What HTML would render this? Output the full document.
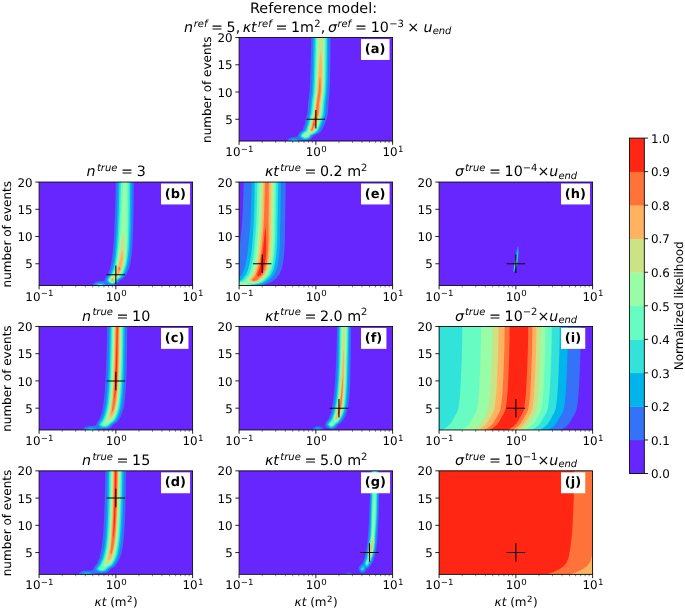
<!DOCTYPE html>
<html lang="en"><head><meta charset="utf-8"><title>Normalized likelihood</title>
<style>html,body{margin:0;padding:0;background:#fff}svg{display:block}</style></head>
<body>
<svg width="685" height="610" viewBox="0 0 685 610" font-family="'DejaVu Sans','Liberation Sans',sans-serif" fill="#000" text-rendering="geometricPrecision">
<rect width="685" height="610" fill="#fff"/>
<!-- panel a -->
<svg x="239.1" y="37.55" width="153.5" height="103.5" viewBox="0 0 153.5 103.5" overflow="hidden">
<rect width="153.5" height="103.5" fill="#6826fe"/>
<path fill="#3473f8" fill-rule="evenodd" d="M47.89 103.5L61.4 103.5L61.78 103.18L62.17 103L62.94 102.83L66.39 102.76L67.92 102.66L69.46 102.4L70.61 102.05L71.76 101.45L72.53 100.81L73.3 99.86L73.68 99.22L74.22 98.05L77.13 97.05L78.67 96.42L79.82 95.77L80.97 94.84L81.74 93.99L82.12 93.47L83.27 91.64L84.04 90.25L84.81 88.61L86.34 84.85L87.42 81.71L88.26 78.35L88.71 76.26L89.12 70.82L89.37 65.37L89.97 59.92L90.49 54.47L90.86 43.58L91.1 32.68L91.3 16.34L91.41 0L72.22 0L71.76 19.23L71.38 31.94L70.99 42.07L70.61 50.24L70.38 54.47L69.04 65.37L68.69 70.82L68.16 76.26L67.16 79.95L66 84.85L65.54 87.16L64.47 89.8L63.62 92.61L62.55 93.17L61.78 93.66L61.02 94.31L60.63 94.72L59.87 95.8L59.48 96.53L58.71 98.36L58.33 98.85L57.95 99.12L57.56 99.27L56.8 99.43L54.11 99.64L52.96 99.8L51.81 100.08L51.04 100.36L49.89 101.04L49.12 101.72L48.35 102.71L47.89 103.5Z"/>
<path fill="#00b5eb" fill-rule="evenodd" d="M50.27 103.5L59.02 103.5L58.71 102.87L58.33 102.39L57.56 101.85L56.41 101.45L55.64 101.32L54.88 101.29L54.11 101.34L53.34 101.48L52.19 101.91L51.42 102.38L51.04 102.69L50.27 103.5ZM60.52 98.05L60.63 98.61L61.02 99.75L61.4 100.33L61.78 100.71L62.17 100.97L62.94 101.35L63.7 101.6L64.47 101.77L65.62 101.92L67.16 101.9L68.69 101.59L69.46 101.3L70.23 100.87L70.99 100.27L71.38 99.87L72.15 98.81L72.56 98.05L73.68 97.46L76.37 96.22L77.52 95.54L78.67 94.65L79.82 93.4L80.38 92.61L80.97 91.57L82.12 89.25L83.66 85.36L84.87 81.71L85.58 78.92L86.17 76.26L86.63 70.82L86.92 65.37L88.17 54.47L88.62 43.58L88.91 32.68L89.2 16.34L89.34 0L74.29 0L73.53 32.68L73.17 43.58L72.7 54.47L71.32 65.37L70.92 70.82L70.35 76.26L69.46 79.33L68.31 84L67.63 87.16L66.39 90.35L65.69 92.61L63.7 93.94L62.55 94.89L61.78 95.78L61.4 96.34L60.52 98.05Z"/>
<path fill="#32e3da" fill-rule="evenodd" d="M52.75 103.5L56.55 103.5L55.64 103.11L55.26 103.03L54.49 103L53.73 103.11L52.75 103.5ZM61.7 98.05L62.17 98.95L62.55 99.47L63.32 100.17L64.09 100.61L64.85 100.9L66 101.11L66.77 101.12L67.54 101.01L68.69 100.62L69.84 99.9L70.61 99.14L71.38 98.05L72.15 97.43L75.22 95.84L76.75 94.83L77.9 93.79L78.67 92.89L78.88 92.61L79.82 90.81L80.59 89.17L81.41 87.16L83.2 81.71L84.52 76.26L85 70.82L85.32 65.37L86.64 54.47L87.12 43.58L87.43 32.68L87.71 16.34L87.86 0L75.77 0L75.02 32.68L74.67 43.58L74.22 54.47L72.8 65.37L72.37 70.82L71.78 76.26L70.61 80.3L69.46 84.96L68.98 87.16L67.92 89.93L67.06 92.61L66.39 93.27L64.47 94.67L63.32 95.69L62.55 96.62L61.7 98.05Z"/>
<path fill="#66fcc2" fill-rule="evenodd" d="M62.72 98.05L63.32 98.86L63.7 99.24L64.09 99.54L64.85 99.96L65.62 100.22L66.39 100.32L66.77 100.31L67.54 100.16L68.69 99.66L69.46 99.08L70.23 98.24L70.61 97.6L70.99 97.15L71.38 96.86L72.91 96.22L74.45 95.4L75.6 94.64L76.75 93.65L77.68 92.61L79.05 89.84L79.82 88.09L80.19 87.16L81.36 83.54L81.91 81.71L82.51 79.34L83.22 76.26L83.72 70.82L84.06 65.37L85.45 54.47L85.91 43.58L86.21 32.68L86.46 16.34L86.58 0L77.05 0L76.69 16.34L76.23 32.68L75.88 43.58L75.42 54.47L73.96 65.37L73.51 70.82L72.89 76.26L71.76 80.07L70.61 84.62L70.04 87.16L69.08 89.79L68.14 92.61L67.92 93.09L67.54 93.63L67.16 94L65.24 95.3L64.09 96.27L63.32 97.15L62.72 98.05Z"/>
<path fill="#99fca6" fill-rule="evenodd" d="M63.7 98.05L64.47 98.78L64.85 99.03L65.62 99.37L66.39 99.51L66.77 99.5L67.54 99.32L67.92 99.16L68.69 98.69L69.38 98.05L69.46 97.24L69.84 96.15L70.23 95.89L70.61 95.78L72.53 95.53L73.3 95.22L74.45 94.54L75.22 93.98L75.98 93.31L76.64 92.61L77.9 90.04L79.16 87.16L80.81 81.71L82.12 76.26L82.63 70.82L82.99 65.37L84.41 54.47L84.66 49.03L85.12 32.68L85.27 16.34L85.33 0L78.3 0L77.72 21.79L76.94 43.58L76.45 54.47L74.96 65.37L74.48 70.82L73.84 76.26L72.53 80.68L70.94 87.16L69.09 92.61L68.69 94.77L68.31 95.11L66.39 95.8L65.62 96.22L64.47 97.15L63.7 98.05Z"/>
<path fill="#cce385" fill-rule="evenodd" d="M64.8 98.05L65.62 98.51L66.39 98.7L67.16 98.61L67.54 98.48L68.29 98.05L67.92 97.46L67.54 97.16L67.16 97.03L66.77 97L66.39 97.06L66 97.2L65.24 97.67L64.8 98.05ZM69.96 92.61L70.23 93.37L70.61 93.96L70.99 94.28L71.76 94.6L72.53 94.69L73.3 94.41L74.06 93.96L74.83 93.39L75.68 92.61L77.13 89.6L78.22 87.16L79.81 81.71L81.11 76.26L81.64 70.82L82.01 65.37L83.47 54.47L83.85 43.58L84.05 32.68L83.96 5.45L83.89 0L79.74 0L78.94 21.79L77.4 54.47L75.87 65.37L75.37 70.82L74.71 76.26L73.09 81.71L71.76 87.16L69.96 92.61Z"/>
<path fill="#ffb360" fill-rule="evenodd" d="M70.84 92.61L71.38 93.29L71.76 93.57L72.15 93.75L72.53 93.84L72.91 93.78L73.3 93.6L74.06 93.13L74.71 92.61L77.32 87.16L78.86 81.71L80.14 76.26L80.68 70.82L81.05 65.37L82.54 54.47L82.8 43.58L82.87 32.68L82.71 27.24L82.51 23.72L82.33 21.79L82.12 16.71L81.74 13.31L81.36 13.94L80.97 17.07L80.59 21.79L80.2 25.03L79.82 29.31L79.58 32.68L78.33 54.47L76.75 65.37L76.23 70.82L75.54 76.26L73.88 81.71L72.15 88.72L70.84 92.61Z"/>
<path fill="#ff733b" fill-rule="evenodd" d="M71.83 92.61L72.15 92.83L72.53 93L72.91 92.96L73.62 92.61L73.68 92.08L74.06 90.91L74.83 90.07L75.6 88.74L76.41 87.16L77.13 84.28L77.89 81.71L78.28 79.75L79.14 76.26L79.67 70.82L80.04 65.37L81.53 54.47L81.57 49.03L81.47 43.58L81.36 40.69L80.97 38.41L80.59 40.88L80.2 44.55L79.34 54.47L77.7 65.37L77.13 70.82L76.41 76.26L75.98 77.77L74.68 81.71L73.32 87.16L73.3 87.74L72.91 90.08L71.83 92.61Z"/>
<path fill="#ff2613" fill-rule="evenodd" d="M74.27 87.16L74.45 87.6L74.83 87.8L75.32 87.16L75.22 86.2L74.83 85.75L74.45 86.58L74.27 87.16ZM75.63 81.71L75.98 83.37L76.37 82.76L76.75 81.71L76.37 80.74L75.98 80.93L75.63 81.71Z"/>
</svg>
<path d="M306.60 119.26H325.10M315.85 110.01V128.51" stroke="#000" stroke-width="1.05" fill="none"/>
<rect x="361.05" y="39.05" width="28.49" height="20.9" fill="#fff"/>
<text x="364.80" y="53.15" font-size="12.96" font-weight="bold">(a)</text>
<rect x="239.1" y="37.55" width="153.5" height="103.5" fill="none" stroke="#000" stroke-width="0.86"/>
<text x="232.70" y="123.86" font-size="11.88" text-anchor="end">5</text>
<text x="232.70" y="96.62" font-size="11.88" text-anchor="end">10</text>
<text x="232.70" y="69.39" font-size="11.88" text-anchor="end">15</text>
<text x="232.70" y="42.15" font-size="11.88" text-anchor="end">20</text>
<text x="239.40" y="156.05" font-size="11.88" text-anchor="middle">10<tspan dy="-4.4" dx="0.3" font-size="8.6">−1</tspan></text>
<text x="316.15" y="156.05" font-size="11.88" text-anchor="middle">10<tspan dy="-4.4" dx="0.3" font-size="8.6">0</tspan></text>
<text x="392.90" y="156.05" font-size="11.88" text-anchor="middle">10<tspan dy="-4.4" dx="0.3" font-size="8.6">1</tspan></text>
<path d="M239.10 119.26h-3.8M239.10 92.02h-3.8M239.10 64.79h-3.8M239.10 37.55h-3.8M239.10 141.05v3.8M315.85 141.05v3.8M392.60 141.05v3.8" stroke="#000" stroke-width="0.86" fill="none"/>
<path d="M262.20 141.05v1.9M275.72 141.05v1.9M285.31 141.05v1.9M292.75 141.05v1.9M298.82 141.05v1.9M303.96 141.05v1.9M308.41 141.05v1.9M312.34 141.05v1.9M338.95 141.05v1.9M352.47 141.05v1.9M362.06 141.05v1.9M369.50 141.05v1.9M375.57 141.05v1.9M380.71 141.05v1.9M385.16 141.05v1.9M389.09 141.05v1.9" stroke="#000" stroke-opacity="0.8" stroke-width="0.6" fill="none"/>
<text transform="translate(210.50 89.70) rotate(-90)" font-size="12.0" text-anchor="middle">number of events</text>
<text x="313.55" y="12.75" font-size="14.45" text-anchor="middle">Reference model:</text>
<text x="317.75" y="31.95" font-size="14.26" text-anchor="middle"><tspan font-style="italic">n</tspan><tspan dx="0.6" dy="-5.42" font-size="9.98" font-style="italic">ref</tspan><tspan dx="3.6" dy="5.42">=</tspan><tspan dx="3.6">5,</tspan><tspan dx="2.4" font-style="italic">κt</tspan><tspan dx="1.4" dy="-5.42" font-size="9.98" font-style="italic">ref</tspan><tspan dx="3.6" dy="5.42">=</tspan><tspan dx="3.6">1m</tspan><tspan dx="0.3" dy="-5.42" font-size="9.98">2</tspan><tspan dx="0.3" dy="5.42">,</tspan><tspan dx="2.6" font-style="italic">σ</tspan><tspan dx="0.4" dy="-5.42" font-size="9.98" font-style="italic">ref</tspan><tspan dx="3.8" dy="5.42">=</tspan><tspan dx="3.8">10</tspan><tspan dx="0.3" dy="-5.42" font-size="9.98">−3</tspan><tspan dx="3.5" dy="5.42">×</tspan><tspan dx="4.3" font-style="italic">u</tspan><tspan dy="2.1" font-size="9.98" font-style="italic">end</tspan></text>
<!-- panel b -->
<svg x="39.1" y="182.05" width="153.5" height="103.5" viewBox="0 0 153.5 103.5" overflow="hidden">
<rect width="153.5" height="103.5" fill="#6826fe"/>
<path fill="#3473f8" fill-rule="evenodd" d="M53.34 103.5L68.69 103.5L69.08 103.22L69.84 102.97L70.61 102.9L73.3 102.93L74.06 102.86L75.6 102.61L77.13 102.14L78.28 101.54L79.05 100.93L79.44 100.54L80.2 99.52L80.97 98.05L82.51 97.3L83.66 96.63L84.81 95.76L85.58 94.98L86.34 93.97L87.88 91.29L89.03 88.82L90.18 85.63L90.56 84.39L91.26 81.71L92.13 76.26L92.75 70.82L93.19 65.37L93.79 54.47L94.29 38.13L94.55 21.79L94.71 0L76.75 0L76.22 21.79L75.68 38.13L75.2 49.03L74.55 59.92L74.12 65.37L73.58 70.82L72.88 76.26L71.91 81.71L70.76 87.16L70.23 88.23L69.46 90.12L68.69 92.61L67.92 93.4L67.16 94.47L66.39 95.96L65.62 98.05L65.24 98.49L64.85 98.74L64.09 98.99L63.32 99.1L60.63 99.26L59.1 99.43L57.95 99.66L56.8 100.04L55.64 100.67L54.88 101.3L54.11 102.2L53.34 103.5Z"/>
<path fill="#00b5eb" fill-rule="evenodd" d="M55.5 103.5L66.54 103.5L66.39 102.9L66 102.09L65.62 101.67L65.24 101.4L64.47 101.05L63.7 100.82L62.55 100.62L61.4 100.56L60.25 100.63L59.48 100.77L58.71 100.98L57.95 101.3L56.8 102.05L56.03 102.81L55.5 103.5ZM67.38 98.05L67.54 99.07L67.92 100.14L68.31 100.64L69.08 101.2L70.23 101.7L71.76 102.1L73.3 102.29L74.06 102.18L75.22 101.85L75.98 101.52L76.75 101.07L77.52 100.44L77.9 100.04L78.67 99.01L79.21 98.05L81.36 96.62L82.51 95.75L83.66 94.62L84.43 93.61L85.04 92.61L85.96 90.84L87.11 88.16L88.26 84.77L89.11 81.71L90.01 76.26L90.66 70.82L91.13 65.37L91.48 59.92L91.74 54.47L92.11 43.58L92.32 32.68L92.52 16.34L92.62 0L78.84 0L78.15 27.24L77.51 43.58L76.95 54.47L76.6 59.92L76.18 65.37L75.67 70.82L75 76.26L74.06 81.71L72.93 87.16L71.76 89.71L70.76 92.61L69.46 94.01L68.69 95.14L67.92 96.66L67.38 98.05Z"/>
<path fill="#32e3da" fill-rule="evenodd" d="M57.3 103.5L64.73 103.5L64.09 102.85L63.32 102.37L62.17 102L61.02 101.9L59.87 102.05L59.1 102.3L58.33 102.69L57.3 103.5ZM68.54 98.05L69.08 99.18L69.84 100.13L70.23 100.47L70.99 100.96L72.15 101.43L73.3 101.64L74.06 101.49L75.22 101.02L76.37 100.21L77.13 99.41L78.05 98.05L78.28 97.82L80.97 95.7L82.12 94.63L82.89 93.73L83.65 92.61L84.81 90.24L86.05 87.16L87.66 81.71L88.56 76.26L89.21 70.82L89.67 65.37L90 59.92L90.24 54.47L90.44 49.03L90.68 38.13L90.93 16.34L91.03 0L80.43 0L79.72 27.24L79.04 43.58L78.46 54.47L78.08 59.92L77.65 65.37L77.12 70.82L76.45 76.26L75.52 81.71L74.36 87.16L73.3 89.49L72.15 92.61L70.99 93.81L70.23 94.79L69.46 96.03L68.54 98.05Z"/>
<path fill="#66fcc2" fill-rule="evenodd" d="M59.61 103.5L62.42 103.5L61.78 103.31L61.02 103.23L60.25 103.31L59.61 103.5ZM69.46 98.05L70.23 99.24L70.99 100L71.76 100.51L72.91 100.95L73.3 101L73.68 100.93L74.45 100.64L75.22 100.18L75.98 99.53L76.75 98.62L77.52 97.52L78.28 96.79L80.2 95.23L80.97 94.52L81.74 93.68L82.54 92.61L84.04 89.37L84.92 87.16L86.47 81.71L87.37 76.26L87.99 70.82L88.41 65.37L88.7 59.92L89.07 49.03L89.26 38.13L89.52 0L81.94 0L81.2 27.24L80.44 43.58L79.82 54.47L78.91 65.37L78.34 70.82L77.64 76.26L76.7 81.71L75.49 87.16L74.06 90.44L73.26 92.61L71.76 94.23L70.99 95.22L70.23 96.45L69.46 98.05Z"/>
<path fill="#99fca6" fill-rule="evenodd" d="M70.25 98.05L70.99 99.03L71.38 99.4L72.15 99.95L72.91 100.29L73.3 100.36L74.06 100.12L74.83 99.66L75.6 98.97L76.34 98.05L76.75 97.11L77.13 96.64L79.44 94.85L80.59 93.77L81.56 92.61L83.66 87.9L83.95 87.16L85.41 81.71L86.29 76.26L86.84 70.82L87.19 65.37L87.39 59.92L87.44 54.47L87.59 49.03L87.68 38.13L87.63 27.24L87.67 16.34L87.64 0L83.82 0L82.91 27.24L81.96 43.58L81.25 54.47L80.13 65.37L79.49 70.82L78.72 76.26L77.76 81.71L77.13 84.14L76.46 87.16L74.24 92.61L73.68 93.41L72.53 94.55L71.76 95.48L70.99 96.63L70.25 98.05Z"/>
<path fill="#cce385" fill-rule="evenodd" d="M70.99 98.05L71.38 98.53L72.15 99.21L72.91 99.63L73.3 99.72L74.06 99.44L74.83 98.88L75.61 98.05L75.98 95.99L76.37 95.55L76.75 95.36L77.9 94.98L78.28 94.74L79.44 93.84L80.63 92.61L83.05 87.16L83.66 84.41L84.38 81.71L85.23 76.26L85.64 70.82L85.82 65.37L85.77 59.92L85.58 57.21L85.22 54.47L85.19 53.6L84.81 49.4L84.43 49.22L84.04 50.67L83.49 54.47L82.89 56.71L82.51 58.71L80.68 70.82L79.78 76.26L78.79 81.71L77.9 84.9L77.36 87.16L76.75 88.82L75.17 92.61L74.83 94L74.45 94.42L73.3 94.95L72.91 95.3L71.76 96.72L70.99 98.05Z"/>
<path fill="#ffb360" fill-rule="evenodd" d="M71.71 98.05L72.53 98.76L72.91 98.97L73.3 99.08L73.68 98.96L74.06 98.75L74.88 98.05L74.45 96.73L74.06 96.32L73.68 96.15L73.3 96.14L72.91 96.45L72.53 96.87L71.71 98.05ZM76.14 92.61L76.37 93.14L76.75 93.6L77.13 93.81L77.52 93.91L77.9 93.9L78.28 93.72L79.44 92.83L79.67 92.61L79.82 92.09L80.2 91.22L82.16 87.16L82.51 84.9L83.27 81.71L83.66 78.66L84.04 76.26L84.02 70.82L83.66 68.73L83.27 68.35L82.89 68.92L82.12 71.42L81.36 74.45L79.9 81.71L79.05 84.29L77.9 88.49L77.52 89.51L76.14 92.61Z"/>
<path fill="#ff733b" fill-rule="evenodd" d="M72.51 98.05L72.91 98.31L73.3 98.44L73.68 98.31L74.08 98.05L73.68 97.52L73.3 97.34L72.91 97.6L72.51 98.05ZM77.38 92.61L77.9 92.82L78.43 92.61L78.28 92.18L77.9 91.92L77.38 92.61ZM79.24 87.16L79.44 88.14L79.82 88.68L80.2 88.68L80.59 88.17L81.16 87.16L80.97 85.11L80.59 84.58L80.2 84.75L79.82 85.55L79.24 87.16Z"/>
</svg>
<path d="M106.60 274.66H125.10M115.85 265.41V283.91" stroke="#000" stroke-width="1.05" fill="none"/>
<rect x="161.05" y="183.55" width="29.02" height="20.9" fill="#fff"/>
<text x="164.80" y="197.65" font-size="12.96" font-weight="bold">(b)</text>
<rect x="39.1" y="182.05" width="153.5" height="103.5" fill="none" stroke="#000" stroke-width="0.86"/>
<text x="32.70" y="268.36" font-size="11.88" text-anchor="end">5</text>
<text x="32.70" y="241.12" font-size="11.88" text-anchor="end">10</text>
<text x="32.70" y="213.89" font-size="11.88" text-anchor="end">15</text>
<text x="32.70" y="186.65" font-size="11.88" text-anchor="end">20</text>
<text x="39.40" y="300.55" font-size="11.88" text-anchor="middle">10<tspan dy="-4.4" dx="0.3" font-size="8.6">−1</tspan></text>
<text x="116.15" y="300.55" font-size="11.88" text-anchor="middle">10<tspan dy="-4.4" dx="0.3" font-size="8.6">0</tspan></text>
<text x="192.90" y="300.55" font-size="11.88" text-anchor="middle">10<tspan dy="-4.4" dx="0.3" font-size="8.6">1</tspan></text>
<path d="M39.10 263.76h-3.8M39.10 236.52h-3.8M39.10 209.29h-3.8M39.10 182.05h-3.8M39.10 285.55v3.8M115.85 285.55v3.8M192.60 285.55v3.8" stroke="#000" stroke-width="0.86" fill="none"/>
<path d="M62.20 285.55v1.9M75.72 285.55v1.9M85.31 285.55v1.9M92.75 285.55v1.9M98.82 285.55v1.9M103.96 285.55v1.9M108.41 285.55v1.9M112.34 285.55v1.9M138.95 285.55v1.9M152.47 285.55v1.9M162.06 285.55v1.9M169.50 285.55v1.9M175.57 285.55v1.9M180.71 285.55v1.9M185.16 285.55v1.9M189.09 285.55v1.9" stroke="#000" stroke-opacity="0.8" stroke-width="0.6" fill="none"/>
<text transform="translate(10.50 234.20) rotate(-90)" font-size="12.0" text-anchor="middle">number of events</text>
<text x="116.15" y="176.45" font-size="14.26" text-anchor="middle"><tspan font-style="italic">n</tspan><tspan dx="1.3" dy="-5.42" font-size="9.98" font-style="italic">true</tspan><tspan dx="3.7" dy="5.42">=</tspan><tspan dx="3.6">3</tspan></text>
<!-- panel c -->
<svg x="39.1" y="326.45" width="153.5" height="103.5" viewBox="0 0 153.5 103.5" overflow="hidden">
<rect width="153.5" height="103.5" fill="#6826fe"/>
<path fill="#3473f8" fill-rule="evenodd" d="M43.44 103.5L60.33 103.5L61.02 103.08L61.78 102.87L62.94 102.74L66 102.61L67.54 102.48L69.08 102.24L70.23 101.91L71.38 101.38L72.15 100.85L72.53 100.5L73.3 99.57L74.14 98.05L75.98 97.01L77.13 96.26L77.9 95.63L78.67 94.85L79.44 93.82L79.82 93.19L81.36 90.44L82.12 88.8L83.27 85.75L84.5 81.71L85.4 76.26L86.02 70.82L86.49 65.37L86.84 59.92L87.11 54.47L87.34 49.03L87.66 38.13L87.97 21.79L88.19 0L68.07 0L67.61 21.79L67.16 36.98L66.67 49.03L66.05 59.92L65.64 65.37L65.11 70.82L64.42 76.26L63.47 81.71L62.94 84.26L62.43 87.16L61.4 89.56L60.47 92.61L59.48 93.72L58.71 94.81L57.95 96.26L57.25 98.05L56.8 98.71L56.41 99L56.03 99.18L55.26 99.38L54.11 99.48L51.42 99.57L49.89 99.71L48.35 99.99L47.2 100.34L46.05 100.88L44.9 101.72L44.13 102.53L43.44 103.5Z"/>
<path fill="#00b5eb" fill-rule="evenodd" d="M46.24 103.5L57.53 103.5L57.18 102.86L56.8 102.42L56.41 102.12L55.64 101.73L54.11 101.3L53.34 101.19L52.19 101.12L51.04 101.18L50.27 101.3L49.5 101.48L48.74 101.75L47.59 102.36L46.82 102.94L46.24 103.5ZM59.17 98.05L59.48 99.22L59.87 99.96L60.25 100.39L61.02 100.89L61.78 101.19L62.55 101.39L64.47 101.63L65.62 101.64L66.77 101.55L67.92 101.33L68.69 101.1L69.46 100.77L70.23 100.31L70.99 99.67L71.38 99.26L72.23 98.05L75.6 95.52L76.75 94.37L77.52 93.37L78 92.61L78.67 91.35L79.82 88.88L80.5 87.16L81.74 83.02L82.09 81.71L82.89 76.78L83.63 70.82L84.11 65.37L84.77 54.47L85.18 43.58L85.46 32.68L85.74 16.34L85.9 0L70.36 0L69.84 24.6L69.24 43.58L68.73 54.47L68.4 59.92L68.01 65.37L67.5 70.82L66.85 76.26L65.88 81.71L65.24 84.5L64.71 87.16L63.7 89.44L62.61 92.61L60.63 95.23L59.87 96.54L59.17 98.05Z"/>
<path fill="#32e3da" fill-rule="evenodd" d="M48.93 103.5L54.84 103.5L54.11 103.12L53.34 102.87L52.57 102.74L51.81 102.71L51.04 102.77L50.27 102.94L49.5 103.21L48.93 103.5ZM60.62 98.05L61.02 98.7L61.4 99.16L62.17 99.78L63.32 100.32L64.47 100.57L66 100.62L66.77 100.53L67.54 100.35L68.69 99.89L69.84 99.08L71.38 97.49L73.68 95.64L74.83 94.62L75.6 93.8L76.5 92.61L77.9 89.75L78.97 87.16L80.5 81.71L81.39 76.26L82.07 70.82L82.56 65.37L83.25 54.47L83.67 43.58L83.96 32.68L84.24 16.34L84.41 0L71.85 0L71.38 23.32L70.75 43.58L70.52 49.03L69.94 59.92L69.55 65.37L69.06 70.82L68.43 76.26L67.48 81.71L66.24 87.16L64.85 90.51L64.11 92.61L63.32 93.84L61.78 96.01L60.62 98.05Z"/>
<path fill="#66fcc2" fill-rule="evenodd" d="M61.97 98.05L62.55 98.62L62.94 98.89L63.32 99.11L64.09 99.42L64.85 99.59L65.62 99.64L66.39 99.59L67.16 99.42L68.31 98.92L69.08 98.38L70.61 96.81L73.68 94.31L74.45 93.54L75.23 92.61L76.75 89.51L77.74 87.16L79.24 81.71L80.15 76.26L80.86 70.82L81.36 65.37L82.07 54.47L82.49 43.58L82.78 32.68L83.07 16.34L83.25 0L73.01 0L72.45 27.24L72.13 38.13L71.7 49.03L71.13 59.92L70.76 65.37L70.28 70.82L69.67 76.26L68.73 81.71L67.48 87.16L65.24 92.98L64.85 93.81L64.09 95.04L62.55 97.14L61.97 98.05Z"/>
<path fill="#99fca6" fill-rule="evenodd" d="M63.54 98.05L64.47 98.47L65.62 98.65L66.77 98.5L67.54 98.22L67.86 98.05L68.31 97.16L68.69 96.71L69.46 96.11L70.99 95.15L72.15 94.33L73.3 93.35L74.02 92.61L75.6 89.52L76.64 87.16L78.16 81.71L79.09 76.26L79.82 70.82L80.33 65.37L81.06 54.47L81.49 43.58L81.78 32.68L82.07 16.34L82.26 0L74.01 0L73.58 21.79L73.3 32.68L72.94 43.58L72.15 59.92L71.79 65.37L71.31 70.82L70.72 76.26L69.82 81.71L68.57 87.16L67.92 89.18L66.59 92.61L66.39 93.89L66 95.06L65.62 95.72L65.24 96.21L63.54 98.05Z"/>
<path fill="#cce385" fill-rule="evenodd" d="M67.9 92.61L68.31 93.58L68.69 93.97L69.08 94.14L69.46 94.2L70.23 94.12L70.99 93.8L71.76 93.34L72.71 92.61L74.45 89.53L75.6 87.16L77.15 81.71L78.13 76.26L78.88 70.82L79.4 65.37L80.15 54.47L80.38 49.03L80.74 38.13L81 27.24L81.36 0L74.9 0L74.48 21.79L74.03 38.13L73.62 49.03L73.07 59.92L72.72 65.37L72.26 70.82L71.69 76.26L70.82 81.71L69.46 87.97L69.08 89.5L68.69 90.65L67.9 92.61Z"/>
<path fill="#ffb360" fill-rule="evenodd" d="M70.71 87.16L70.99 90.86L71.38 90.87L71.76 90.69L72.53 90.18L72.91 89.75L73.68 88.62L74.5 87.16L76.16 81.71L77.19 76.26L77.97 70.82L78.51 65.37L79.05 58.06L79.28 54.47L79.71 43.58L80.14 27.24L80.5 0L75.76 0L75.46 16.34L75.06 32.68L74.71 43.58L73.95 59.92L73.61 65.37L73.16 70.82L72.62 76.26L71.76 82.04L71.38 84.17L70.71 87.16Z"/>
<path fill="#ff733b" fill-rule="evenodd" d="M72.22 87.16L72.53 87.41L72.99 87.16L73.3 85.42L74.06 84.32L75.06 81.71L76.21 76.26L77.04 70.82L77.59 65.37L78.4 54.47L78.84 43.58L79.26 27.24L79.62 0L76.64 0L76.22 21.79L75.78 38.13L75.36 49.03L74.85 59.92L74.53 65.37L73.6 76.26L73.3 79.05L72.91 81.71L72.53 85.94L72.22 87.16Z"/>
<path fill="#ff2613" fill-rule="evenodd" d="M75.34 70.82L75.6 71.74L75.8 70.82L76.45 65.37L77.13 57.61L77.36 54.47L77.52 51.11L77.9 40.4L78.22 27.24L78.53 0L77.73 0L77.27 21.79L76.81 38.13L75.93 59.92L75.6 66.83L75.34 70.82Z"/>
</svg>
<path d="M106.60 380.92H125.10M115.85 371.67V390.17" stroke="#000" stroke-width="1.05" fill="none"/>
<rect x="161.05" y="327.95" width="27.43" height="20.9" fill="#fff"/>
<text x="164.80" y="342.05" font-size="12.96" font-weight="bold">(c)</text>
<rect x="39.1" y="326.45" width="153.5" height="103.5" fill="none" stroke="#000" stroke-width="0.86"/>
<text x="32.70" y="412.76" font-size="11.88" text-anchor="end">5</text>
<text x="32.70" y="385.52" font-size="11.88" text-anchor="end">10</text>
<text x="32.70" y="358.29" font-size="11.88" text-anchor="end">15</text>
<text x="32.70" y="331.05" font-size="11.88" text-anchor="end">20</text>
<text x="39.40" y="444.95" font-size="11.88" text-anchor="middle">10<tspan dy="-4.4" dx="0.3" font-size="8.6">−1</tspan></text>
<text x="116.15" y="444.95" font-size="11.88" text-anchor="middle">10<tspan dy="-4.4" dx="0.3" font-size="8.6">0</tspan></text>
<text x="192.90" y="444.95" font-size="11.88" text-anchor="middle">10<tspan dy="-4.4" dx="0.3" font-size="8.6">1</tspan></text>
<path d="M39.10 408.16h-3.8M39.10 380.92h-3.8M39.10 353.69h-3.8M39.10 326.45h-3.8M39.10 429.95v3.8M115.85 429.95v3.8M192.60 429.95v3.8" stroke="#000" stroke-width="0.86" fill="none"/>
<path d="M62.20 429.95v1.9M75.72 429.95v1.9M85.31 429.95v1.9M92.75 429.95v1.9M98.82 429.95v1.9M103.96 429.95v1.9M108.41 429.95v1.9M112.34 429.95v1.9M138.95 429.95v1.9M152.47 429.95v1.9M162.06 429.95v1.9M169.50 429.95v1.9M175.57 429.95v1.9M180.71 429.95v1.9M185.16 429.95v1.9M189.09 429.95v1.9" stroke="#000" stroke-opacity="0.8" stroke-width="0.6" fill="none"/>
<text transform="translate(10.50 378.60) rotate(-90)" font-size="12.0" text-anchor="middle">number of events</text>
<text x="116.15" y="320.85" font-size="14.26" text-anchor="middle"><tspan font-style="italic">n</tspan><tspan dx="1.3" dy="-5.42" font-size="9.98" font-style="italic">true</tspan><tspan dx="3.7" dy="5.42">=</tspan><tspan dx="3.6">10</tspan></text>
<!-- panel d -->
<svg x="39.1" y="470.85" width="153.5" height="103.5" viewBox="0 0 153.5 103.5" overflow="hidden">
<rect width="153.5" height="103.5" fill="#6826fe"/>
<path fill="#3473f8" fill-rule="evenodd" d="M39.04 103.5L55.93 103.5L56.41 102.87L56.8 102.65L57.56 102.48L58.71 102.45L61.78 102.52L63.7 102.47L65.62 102.26L67.16 101.89L68.31 101.41L69.46 100.61L70.23 99.79L70.61 99.26L71.28 98.05L74.06 96.64L75.22 95.86L75.98 95.18L76.75 94.29L77.13 93.74L77.78 92.61L79.05 90.61L79.82 89.15L80.59 87.39L81.36 85.41L82.56 81.71L83.66 75.66L84.3 70.82L84.83 65.37L85.25 59.92L85.58 54.47L85.85 49.03L86.26 38.13L86.67 21.79L87.01 0L66.28 0L65.98 16.34L65.56 32.68L64.94 49.03L64.29 59.92L63.86 65.37L63.3 70.82L62.56 76.26L61.52 81.71L61.02 83.75L60.33 87.16L59.48 88.81L59.1 89.7L58.12 92.61L56.8 93.93L55.64 95.45L54.88 96.88L54.11 98.89L53.73 99.4L53.34 99.64L52.57 99.82L47.2 99.68L45.28 99.84L43.75 100.14L42.21 100.68L41.06 101.35L39.91 102.37L39.04 103.5Z"/>
<path fill="#00b5eb" fill-rule="evenodd" d="M42.01 103.5L52.95 103.5L52.57 103.05L51.81 102.43L50.66 101.86L49.12 101.46L47.59 101.34L46.05 101.46L44.51 101.88L43.36 102.44L42.6 102.98L42.01 103.5ZM56.41 98.05L56.8 98.94L57.18 99.51L57.95 100.25L59.1 100.86L60.25 101.21L61.02 101.34L62.17 101.44L64.09 101.35L65.62 101L66.39 100.7L67.16 100.27L67.92 99.69L68.31 99.31L69.26 98.05L72.53 95.95L73.68 95.04L74.45 94.27L75.22 93.29L76.75 90.74L77.9 88.41L78.67 86.48L79.82 82.92L80.17 81.71L80.97 77.22L81.88 70.82L82.43 65.37L82.86 59.92L83.21 54.47L83.71 43.58L84.07 32.68L84.33 21.79L84.68 0L68.62 0L68.2 21.79L67.91 32.68L67.54 43.58L67.16 51.78L66.68 59.92L66.26 65.37L65.71 70.82L65 76.26L63.91 81.71L63.32 83.92L62.59 87.16L61.4 89.58L60.25 92.61L57.95 95.42L57.18 96.58L56.41 98.05Z"/>
<path fill="#32e3da" fill-rule="evenodd" d="M45.1 103.5L49.87 103.5L48.74 103.13L47.59 103L46.43 103.1L45.67 103.29L45.1 103.5ZM57.96 98.05L58.33 98.55L59.1 99.27L59.87 99.75L60.63 100.06L61.4 100.26L62.17 100.36L63.32 100.36L64.09 100.26L65.24 99.91L66.39 99.29L67.16 98.66L67.71 98.05L68.31 97.52L71.76 95.1L72.91 94.08L74.06 92.71L75.6 89.98L76.9 87.16L77.9 84.05L78.58 81.71L79.53 76.26L80.31 70.82L80.87 65.37L81.31 59.92L81.67 54.47L82.18 43.58L82.54 32.68L82.91 16.34L83.16 0L70.14 0L69.72 21.79L69.44 32.68L69.07 43.58L68.69 51.87L68.23 59.92L67.82 65.37L67.29 70.82L66.6 76.26L65.5 81.71L64.85 84.1L64.12 87.16L62.55 90.61L61.76 92.61L61.02 93.82L59.1 96.29L57.96 98.05Z"/>
<path fill="#66fcc2" fill-rule="evenodd" d="M59.47 98.05L59.87 98.38L60.63 98.84L61.78 99.23L62.55 99.32L63.32 99.3L64.47 99.05L65.24 98.71L66 98.21L67.16 96.99L67.92 96.43L70.23 94.95L71.76 93.74L72.82 92.61L74.06 90.42L75.22 88.13L75.65 87.16L77.32 81.71L78.28 76.26L79.07 70.82L79.65 65.37L80.1 59.92L80.47 54.47L80.98 43.58L81.51 27.24L81.98 0L71.32 0L70.9 21.79L70.62 32.68L70.26 43.58L69.84 52.82L69.44 59.92L69.04 65.37L68.52 70.82L67.85 76.26L66.77 81.71L65.37 87.16L63.32 92L62.55 94L61.78 95.22L59.47 98.05Z"/>
<path fill="#99fca6" fill-rule="evenodd" d="M61.54 98.05L62.17 98.21L62.94 98.26L63.7 98.17L64.13 98.05L64.09 97.69L63.7 97.08L63.32 97.1L62.94 97.23L62.17 97.62L61.54 98.05ZM64.35 92.61L64.47 95L64.85 95.76L65.24 95.79L66 95.64L67.16 95.29L68.69 94.65L70.23 93.72L71.54 92.61L73.3 89.6L74.52 87.16L76.22 81.71L76.75 78.91L77.22 76.26L78.03 70.82L78.61 65.37L79.07 59.92L79.44 54.47L79.97 43.58L80.35 32.68L80.73 16.34L80.97 0L72.32 0L71.91 21.79L71.47 38.13L71.05 49.03L70.78 54.47L70.47 59.92L70.08 65.37L69.57 70.82L68.92 76.26L67.87 81.71L66.39 87.53L65.62 89.72L64.35 92.61Z"/>
<path fill="#cce385" fill-rule="evenodd" d="M65.82 92.61L66 92.89L66.39 93.28L66.77 93.49L67.54 93.63L67.92 93.6L68.69 93.37L69.84 92.77L70.07 92.61L71.76 90.04L72.91 88.12L73.42 87.16L75.19 81.71L76.24 76.26L76.75 72.96L77.07 70.82L77.9 62.65L78.52 54.47L78.81 49.03L79.26 38.13L79.6 27.24L80.07 0L73.23 0L72.91 17.32L72.38 38.13L71.97 49.03L71.71 54.47L71.41 59.92L71.03 65.37L70.52 70.82L69.89 76.26L68.9 81.71L68.31 84.35L67.59 87.16L67.16 89.35L66.77 90.53L65.82 92.61Z"/>
<path fill="#ffb360" fill-rule="evenodd" d="M68.81 87.16L69.08 88.61L69.46 89.27L69.84 89.43L70.23 89.39L70.61 89.19L71.38 88.35L72.21 87.16L74.15 81.71L75.29 76.26L76.15 70.82L76.76 65.37L77.24 59.92L77.64 54.47L78.18 43.58L78.73 27.24L79.21 0L74.09 0L73.79 16.34L73.25 38.13L72.85 49.03L72.3 59.92L71.76 67.31L71.44 70.82L70.84 76.26L69.46 84.51L68.81 87.16Z"/>
<path fill="#ff733b" fill-rule="evenodd" d="M71.16 81.71L71.38 82.96L71.76 83.46L72.15 83.28L72.93 81.71L74.06 77.2L74.28 76.26L75.19 70.82L75.82 65.37L76.33 59.92L76.74 54.47L77.04 49.03L77.7 32.68L77.99 21.79L78.33 0L74.96 0L74.67 16.34L74.28 32.68L73.74 49.03L73.22 59.92L72.87 65.37L71.76 77.35L71.16 81.71Z"/>
<path fill="#ff2613" fill-rule="evenodd" d="M74.09 65.37L74.45 66.35L74.59 65.37L75.22 59.8L75.6 55.39L76 49.03L76.49 38.13L76.87 27.24L77.13 13.97L77.32 0L75.97 0L75.66 16.34L74.99 43.58L74.09 65.37Z"/>
</svg>
<path d="M106.60 498.09H125.10M115.85 488.84V507.34" stroke="#000" stroke-width="1.05" fill="none"/>
<rect x="161.05" y="472.35" width="29.02" height="20.9" fill="#fff"/>
<text x="164.80" y="486.45" font-size="12.96" font-weight="bold">(d)</text>
<rect x="39.1" y="470.85" width="153.5" height="103.5" fill="none" stroke="#000" stroke-width="0.86"/>
<text x="32.70" y="557.16" font-size="11.88" text-anchor="end">5</text>
<text x="32.70" y="529.92" font-size="11.88" text-anchor="end">10</text>
<text x="32.70" y="502.69" font-size="11.88" text-anchor="end">15</text>
<text x="32.70" y="475.45" font-size="11.88" text-anchor="end">20</text>
<text x="39.40" y="589.35" font-size="11.88" text-anchor="middle">10<tspan dy="-4.4" dx="0.3" font-size="8.6">−1</tspan></text>
<text x="116.15" y="589.35" font-size="11.88" text-anchor="middle">10<tspan dy="-4.4" dx="0.3" font-size="8.6">0</tspan></text>
<text x="192.90" y="589.35" font-size="11.88" text-anchor="middle">10<tspan dy="-4.4" dx="0.3" font-size="8.6">1</tspan></text>
<path d="M39.10 552.56h-3.8M39.10 525.32h-3.8M39.10 498.09h-3.8M39.10 470.85h-3.8M39.10 574.35v3.8M115.85 574.35v3.8M192.60 574.35v3.8" stroke="#000" stroke-width="0.86" fill="none"/>
<path d="M62.20 574.35v1.9M75.72 574.35v1.9M85.31 574.35v1.9M92.75 574.35v1.9M98.82 574.35v1.9M103.96 574.35v1.9M108.41 574.35v1.9M112.34 574.35v1.9M138.95 574.35v1.9M152.47 574.35v1.9M162.06 574.35v1.9M169.50 574.35v1.9M175.57 574.35v1.9M180.71 574.35v1.9M185.16 574.35v1.9M189.09 574.35v1.9" stroke="#000" stroke-opacity="0.8" stroke-width="0.6" fill="none"/>
<text transform="translate(10.50 523.00) rotate(-90)" font-size="12.0" text-anchor="middle">number of events</text>
<text x="116.15" y="606.45" font-size="12.0" text-anchor="middle"><tspan font-style="italic">κt</tspan> (m<tspan dy="-4.5" dx="0.5" font-size="8.6">2</tspan><tspan dy="4.5" dx="0.5">)</tspan></text>
<text x="116.15" y="465.25" font-size="14.26" text-anchor="middle"><tspan font-style="italic">n</tspan><tspan dx="1.3" dy="-5.42" font-size="9.98" font-style="italic">true</tspan><tspan dx="3.7" dy="5.42">=</tspan><tspan dx="3.6">15</tspan></text>
<!-- panel e -->
<svg x="239.1" y="182.05" width="153.5" height="103.5" viewBox="0 0 153.5 103.5" overflow="hidden">
<rect width="153.5" height="103.5" fill="#6826fe"/>
<path fill="#3473f8" fill-rule="evenodd" d="M0 103.5L19.49 103.5L23.41 103.03L24.94 102.75L26.1 102.46L28.01 101.83L31.08 100.42L33 99.33L34.15 98.37L35.3 97.8L36.07 97.31L36.84 96.67L37.61 95.83L37.99 95.29L38.76 93.94L39.97 92.61L40.29 92.11L40.68 91.31L41.06 90.27L42.48 87.16L43.76 81.71L44.58 76.26L45.13 70.82L45.5 65.37L45.93 54.47L45.98 43.58L46.36 21.79L46.58 0L46.43 0L4.6 0L3.74 27.24L2.89 43.58L1.59 54.47L1.01 59.92L0 68.02L0 103.5Z"/>
<path fill="#00b5eb" fill-rule="evenodd" d="M0 103.5L14.57 103.5L15.35 103.32L18.8 102.78L22.26 102.08L23.79 101.66L25.33 101.06L27.25 100.01L28.01 99.51L29.16 98.52L30.7 97.51L31.47 96.86L32.23 96.09L33 95.15L33.77 93.97L34.94 92.61L35.3 91.98L37.41 87.16L38.71 81.71L39.54 76.26L40.11 70.82L40.5 65.37L40.78 59.92L40.97 54.47L41.08 43.58L41.31 32.68L41.69 5.45L41.73 0L41.45 0L12.66 0L11.9 27.93L11.2 43.58L9.1 65.37L8.43 70.82L7.63 76.26L6.56 81.71L5.04 87.16L3.02 92.61L2.3 93.18L1.54 94.02L0.77 95.29L0 96.94L0 103.5Z"/>
<path fill="#32e3da" fill-rule="evenodd" d="M0 103.5L11.79 103.5L12.66 103.12L13.05 103.02L17.27 102.28L19.19 101.87L21.87 101.11L23.41 100.53L24.94 99.69L26.1 98.87L28.01 97.28L30.32 95L31.85 92.93L32.23 92.3L33 90.68L34.52 87.16L35.83 81.71L36.68 76.26L37.26 70.82L37.67 65.37L37.96 59.92L38.17 54.47L38.28 49.03L38.91 10.89L39.02 0L38.76 0L15.73 0L15.11 27.24L14.5 43.58L13.3 59.92L12.81 65.37L12.22 70.82L11.47 76.26L10.47 81.71L9.01 87.16L6.87 92.61L4.99 94.94L3.84 96.26L2.7 98.05L0 99.03L0 103.5Z"/>
<path fill="#66fcc2" fill-rule="evenodd" d="M0 103.5L9.62 103.5L10.36 102.85L10.75 102.63L11.51 102.36L12.66 102.12L14.97 101.93L17.65 101.44L19.57 100.91L21.49 100.2L22.64 99.7L23.79 99.03L25.08 98.05L28.01 95.2L29.55 93.32L30.07 92.61L30.32 92.09L31.85 88.77L32.51 87.16L33.82 81.71L34.67 76.26L35.26 70.82L35.66 65.37L35.96 59.92L36.17 54.47L36.77 21.79L37.01 0L36.84 0L18.25 0L17.63 27.24L17.01 43.58L15.76 59.92L15.26 65.37L14.65 70.82L13.9 76.26L12.89 81.71L11.42 87.16L9.3 92.61L6.91 95.62L5.18 98.05L4.99 98.24L4.22 98.78L3.45 99.14L2.3 99.49L1.15 99.73L0 100.13L0 103.5Z"/>
<path fill="#99fca6" fill-rule="evenodd" d="M0 103.5L7.51 103.5L7.68 101.77L8.06 101.19L9.98 101.03L14.2 101.21L14.97 101.19L17.27 100.77L18.8 100.33L19.96 99.89L21.87 98.99L23.37 98.05L27.25 94.03L28.01 93.11L28.4 92.61L29.93 89.31L30.86 87.16L32.16 81.71L33 76.26L33.58 70.82L33.98 65.37L34.26 59.92L34.47 54.47L35.08 16.34L35.23 0L34.92 0L20.48 0L19.84 27.24L19.2 43.58L17.9 59.92L17.39 65.37L16.78 70.82L16.02 76.26L15 81.71L13.52 87.16L11.41 92.61L9.21 95.4L7.34 98.05L7.29 99.02L6.91 100.28L6.52 100.43L6.14 100.49L1.15 100.82L0 101.23L0 103.5Z"/>
<path fill="#cce385" fill-rule="evenodd" d="M0 103.5L5.59 103.5L5.37 103.22L4.61 102.61L3.84 102.24L3.45 102.13L1.15 101.91L0.77 102L0 102.33L0 103.5ZM9.23 98.05L9.59 98.56L9.98 98.93L10.36 99.23L11.13 99.64L11.9 99.91L13.05 100.22L14.58 100.46L14.97 100.46L17.27 100.01L19.19 99.37L20.34 98.81L21.67 98.05L24.18 95.53L26.81 92.61L29.3 87.16L30.59 81.71L31.41 76.26L31.97 70.82L32.34 65.37L32.6 59.92L32.78 54.47L32.84 43.58L33.2 21.79L33.39 0L22.4 0L21.75 27.24L21.1 43.58L19.79 59.92L19.27 65.37L18.66 70.82L17.89 76.26L16.87 81.71L15.39 87.16L13.29 92.61L11.13 95.37L9.23 98.05Z"/>
<path fill="#ffb360" fill-rule="evenodd" d="M0 103.5L3.07 103.49L1.15 102.99L0.77 103.07L0 103.43L0 103.5ZM10.94 98.05L11.9 98.74L12.66 99.12L13.81 99.52L14.58 99.7L14.97 99.72L17.65 99.13L19.19 98.53L20.08 98.05L21.11 96.81L23.79 94.25L25.22 92.61L26.48 90.02L27.73 87.16L29 81.71L29.82 76.26L30.38 70.82L30.75 65.37L31.01 59.92L31.18 54.47L31.24 43.58L31.59 21.79L31.77 0L24.17 0L23.5 27.24L22.84 43.58L21.48 59.92L20.96 65.37L20.33 70.82L19.56 76.26L18.53 81.71L17.04 87.16L14.96 92.61L12.28 96.17L10.94 98.05Z"/>
<path fill="#ff733b" fill-rule="evenodd" d="M12.56 98.05L13.43 98.54L13.81 98.69L14.58 98.94L14.97 98.98L17.27 98.49L18.39 98.05L18.8 97.32L20.34 95.67L21.11 94.97L21.87 94.4L23.75 92.61L24.94 89.88L26.31 87.16L26.86 84.51L27.58 81.71L28.36 76.26L28.87 70.82L29.19 65.37L29.39 59.92L29.52 54.47L29.4 43.58L29.71 16.34L29.74 0L25.87 0L25.17 27.24L24.49 43.58L23.08 59.92L22.54 65.37L21.9 70.82L21.12 76.26L20.08 81.71L18.57 87.16L16.52 92.61L16.12 93.81L15.73 94.4L15.35 94.76L14.97 95.01L14.58 95.4L13.43 96.83L12.56 98.05Z"/>
<path fill="#ff2613" fill-rule="evenodd" d="M14.26 98.05L14.58 98.19L14.97 98.24L15.84 98.05L15.35 97.64L14.97 97.43L14.58 97.66L14.26 98.05ZM18.01 92.61L18.42 93.62L18.8 94.07L19.19 94.34L19.57 94.3L20.72 93.37L21.95 92.61L22.64 90.73L23.03 89.88L23.41 89.16L24.18 87.98L24.6 87.16L24.94 85.1L25.83 81.71L26.1 79.04L26.56 76.26L26.96 70.82L27.1 65.37L27.12 59.92L27.05 54.47L26.86 51.32L26.48 45.64L26.1 45.9L24.13 65.37L23.44 70.82L22.62 76.26L21.57 81.71L19.96 87.65L19.57 88.8L18.01 92.61Z"/>
</svg>
<path d="M252.95 263.76H271.45M262.20 254.51V273.01" stroke="#000" stroke-width="1.05" fill="none"/>
<rect x="361.05" y="183.55" width="28.53" height="20.9" fill="#fff"/>
<text x="364.80" y="197.65" font-size="12.96" font-weight="bold">(e)</text>
<rect x="239.1" y="182.05" width="153.5" height="103.5" fill="none" stroke="#000" stroke-width="0.86"/>
<text x="232.70" y="268.36" font-size="11.88" text-anchor="end">5</text>
<text x="232.70" y="241.12" font-size="11.88" text-anchor="end">10</text>
<text x="232.70" y="213.89" font-size="11.88" text-anchor="end">15</text>
<text x="232.70" y="186.65" font-size="11.88" text-anchor="end">20</text>
<text x="239.40" y="300.55" font-size="11.88" text-anchor="middle">10<tspan dy="-4.4" dx="0.3" font-size="8.6">−1</tspan></text>
<text x="316.15" y="300.55" font-size="11.88" text-anchor="middle">10<tspan dy="-4.4" dx="0.3" font-size="8.6">0</tspan></text>
<text x="392.90" y="300.55" font-size="11.88" text-anchor="middle">10<tspan dy="-4.4" dx="0.3" font-size="8.6">1</tspan></text>
<path d="M239.10 263.76h-3.8M239.10 236.52h-3.8M239.10 209.29h-3.8M239.10 182.05h-3.8M239.10 285.55v3.8M315.85 285.55v3.8M392.60 285.55v3.8" stroke="#000" stroke-width="0.86" fill="none"/>
<path d="M262.20 285.55v1.9M275.72 285.55v1.9M285.31 285.55v1.9M292.75 285.55v1.9M298.82 285.55v1.9M303.96 285.55v1.9M308.41 285.55v1.9M312.34 285.55v1.9M338.95 285.55v1.9M352.47 285.55v1.9M362.06 285.55v1.9M369.50 285.55v1.9M375.57 285.55v1.9M380.71 285.55v1.9M385.16 285.55v1.9M389.09 285.55v1.9" stroke="#000" stroke-opacity="0.8" stroke-width="0.6" fill="none"/>
<text x="316.15" y="176.45" font-size="14.26" text-anchor="middle"><tspan font-style="italic">κt</tspan><tspan dx="1.4" dy="-5.42" font-size="9.98" font-style="italic">true</tspan><tspan dx="3.6" dy="5.42">=</tspan><tspan dx="3.6">0.2 m</tspan><tspan dy="-5.42" font-size="9.98">2</tspan></text>
<!-- panel f -->
<svg x="239.1" y="326.45" width="153.5" height="103.5" viewBox="0 0 153.5 103.5" overflow="hidden">
<rect width="153.5" height="103.5" fill="#6826fe"/>
<path fill="#3473f8" fill-rule="evenodd" d="M73.3 103.5L84.04 103.5L83.66 102.45L83.27 101.8L82.89 101.34L82.12 100.72L81.36 100.33L80.59 100.08L79.82 99.93L78.67 99.85L77.9 99.9L77.13 100.03L76.37 100.27L75.6 100.65L74.83 101.23L74.45 101.63L73.68 102.74L73.3 103.5ZM85.96 98.05L86.34 99.21L86.73 99.93L87.11 100.45L87.5 100.84L88.26 101.43L89.03 101.84L89.8 102.13L90.56 102.33L91.72 102.52L92.48 102.56L93.25 102.51L94.4 102.32L95.17 102.1L95.94 101.78L96.7 101.31L97.47 100.62L97.86 100.16L98.62 98.91L99.01 98.05L100.93 96.95L102.08 96.08L103.23 94.86L104 93.75L104.62 92.61L105.53 91.19L106.3 89.62L107.83 85.31L108.6 82.65L108.84 81.71L109.65 76.26L110.14 71.48L110.59 65.37L110.86 59.92L111.24 49.03L111.58 32.68L111.72 16.34L111.76 0L98.08 0L97.47 21.62L97.09 32.51L96.34 49.03L96.01 54.47L95.6 59.92L95.11 65.37L94.51 70.82L93.74 76.26L92.71 81.71L92.1 84.43L91.6 87.16L90.56 89.53L89.56 92.61L88.26 93.74L87.5 94.69L86.73 96.04L85.96 98.05Z"/>
<path fill="#00b5eb" fill-rule="evenodd" d="M75.41 103.5L81.93 103.5L81.36 102.81L80.59 102.21L79.82 101.86L79.44 101.75L78.67 101.68L77.9 101.76L77.52 101.87L76.75 102.23L75.98 102.83L75.41 103.5ZM87.65 98.05L88.26 99.15L89.03 100.09L89.41 100.43L90.18 100.96L91.33 101.44L92.48 101.62L93.25 101.53L94.4 101.15L95.17 100.71L95.55 100.41L96.32 99.63L96.7 99.12L97.33 98.05L99.39 96.59L100.16 95.93L100.93 95.15L101.69 94.17L103.23 91.72L104 90.35L104.76 88.6L105.92 85.2L106.87 81.71L107.68 76.26L108.24 70.82L108.63 65.37L108.92 59.92L109.32 49.03L109.88 27.24L110.1 16.34L110.3 0L99.54 0L99.04 27.24L98.78 38.13L98.26 49.03L97.94 54.47L97.06 65.37L96.47 70.82L95.71 76.26L94.69 81.71L94.02 84.54L93.51 87.16L92.48 89.69L91.54 92.61L89.8 94.38L89.03 95.35L88.26 96.65L87.65 98.05Z"/>
<path fill="#32e3da" fill-rule="evenodd" d="M88.85 98.05L89.41 98.87L89.8 99.31L90.56 99.97L90.95 100.21L91.72 100.54L92.48 100.68L92.87 100.64L93.63 100.4L94.02 100.21L94.79 99.67L95.55 98.87L96.32 97.82L97.86 96.69L99.01 95.71L99.78 94.9L100.54 93.92L102.08 91.49L102.85 90.1L103.61 88.36L104.06 87.16L104.76 84.86L105.6 81.71L106.42 76.26L106.98 70.82L107.38 65.37L107.68 59.92L108.08 49.03L108.33 38.13L108.84 21.79L109.23 0L100.61 0L100.23 27.24L100.02 38.13L99.18 54.47L98.31 65.37L97.73 70.82L96.97 76.26L95.95 81.71L95.17 84.97L94.73 87.16L93.63 90.06L92.82 92.61L92.1 93.6L90.95 94.84L90.18 95.77L89.41 96.94L88.85 98.05Z"/>
<path fill="#66fcc2" fill-rule="evenodd" d="M89.91 98.05L90.56 98.79L90.95 99.11L91.72 99.56L92.48 99.74L93.25 99.56L94.02 99.11L94.79 98.39L95.07 98.05L95.17 97.74L95.55 97.07L95.94 96.74L97.09 96.29L97.47 96.01L98.24 95.34L99.01 94.53L99.78 93.53L100.93 91.72L101.69 90.39L102.46 88.81L103.12 87.16L104.63 81.71L105.45 76.26L106 70.82L106.41 65.37L106.71 59.92L107.11 49.03L107.36 38.13L107.88 21.79L108.12 10.89L108.27 0L101.57 0L100.99 38.13L100.15 54.47L99.28 65.37L98.7 70.82L97.94 76.26L96.92 81.71L96.32 84.12L95.67 87.16L94.4 90.75L93.63 93.34L93.25 94.13L91.33 96.03L90.56 96.99L89.91 98.05Z"/>
<path fill="#99fca6" fill-rule="evenodd" d="M91 98.05L91.72 98.57L92.1 98.73L92.48 98.8L92.87 98.73L93.25 98.57L93.98 98.05L93.63 97.05L93.25 96.7L92.87 96.6L92.48 96.65L92.1 96.88L91.72 97.22L91 98.05ZM94.67 92.61L94.79 93.51L95.17 94.6L95.55 94.97L95.94 95.16L96.7 95.33L97.09 95.32L97.86 94.7L98.62 93.86L99.51 92.61L100.54 90.9L101.31 89.49L102.33 87.16L103.81 81.71L104.63 76.26L105.18 70.82L105.59 65.37L106.11 54.47L106.99 21.79L107.19 10.89L107.26 0L102.58 0L101.82 38.13L101.29 49.03L100.57 59.92L100.1 65.37L99.53 70.82L98.76 76.26L97.74 81.71L96.46 87.16L94.67 92.61Z"/>
<path fill="#cce385" fill-rule="evenodd" d="M95.45 92.61L95.94 93.59L96.32 94L96.7 94.25L97.09 94.35L97.86 93.7L98.62 92.76L99.01 91.96L99.78 90.8L100.54 89.48L101.62 87.16L103.08 81.71L103.89 76.26L104.44 70.82L104.85 65.37L105.15 59.92L105.54 49.03L105.9 32.68L106.11 16.34L106.1 10.89L105.92 1.83L105.82 0L104.01 0L104 0.09L103.61 6.43L103.43 10.89L102.58 38.13L102.32 43.58L101.71 54.47L101.31 59.92L100.84 65.37L100.27 70.82L99.5 76.26L98.47 81.71L97.09 87.48L96.7 88.82L95.45 92.61Z"/>
<path fill="#ffb360" fill-rule="evenodd" d="M96.24 92.61L96.7 93.16L97.09 93.38L97.47 93.11L97.86 92.71L97.94 92.61L98.24 90.56L98.62 90.29L99.39 89.99L100.16 88.78L100.96 87.16L102.39 81.71L103.2 76.26L103.73 70.82L104.14 65.37L104.43 59.92L104.64 54.47L104.81 49.03L105 38.13L105.02 32.68L104.89 27.24L104.76 23.38L104.38 22.73L103.61 32.95L103.08 43.58L102.43 54.47L101.56 65.37L100.98 70.82L100.2 76.26L99.16 81.71L97.83 87.16L97.47 89.94L97.09 90.33L96.24 92.61Z"/>
<path fill="#ff733b" fill-rule="evenodd" d="M98.5 87.16L98.62 87.62L99.01 88.35L99.39 88.57L99.78 88.07L100.28 87.16L100.54 85.47L100.93 84.37L101.7 81.71L102.48 76.26L102.98 70.82L103.36 65.37L103.64 59.92L103.79 54.47L103.61 50.09L103.29 54.47L102.33 65.37L101.69 71.02L100.91 76.26L99.86 81.71L99.78 82.47L98.5 87.16Z"/>
</svg>
<path d="M329.70 408.16H348.20M338.95 398.91V417.41" stroke="#000" stroke-width="1.05" fill="none"/>
<rect x="361.05" y="327.95" width="25.38" height="20.9" fill="#fff"/>
<text x="364.80" y="342.05" font-size="12.96" font-weight="bold">(f)</text>
<rect x="239.1" y="326.45" width="153.5" height="103.5" fill="none" stroke="#000" stroke-width="0.86"/>
<text x="232.70" y="412.76" font-size="11.88" text-anchor="end">5</text>
<text x="232.70" y="385.52" font-size="11.88" text-anchor="end">10</text>
<text x="232.70" y="358.29" font-size="11.88" text-anchor="end">15</text>
<text x="232.70" y="331.05" font-size="11.88" text-anchor="end">20</text>
<text x="239.40" y="444.95" font-size="11.88" text-anchor="middle">10<tspan dy="-4.4" dx="0.3" font-size="8.6">−1</tspan></text>
<text x="316.15" y="444.95" font-size="11.88" text-anchor="middle">10<tspan dy="-4.4" dx="0.3" font-size="8.6">0</tspan></text>
<text x="392.90" y="444.95" font-size="11.88" text-anchor="middle">10<tspan dy="-4.4" dx="0.3" font-size="8.6">1</tspan></text>
<path d="M239.10 408.16h-3.8M239.10 380.92h-3.8M239.10 353.69h-3.8M239.10 326.45h-3.8M239.10 429.95v3.8M315.85 429.95v3.8M392.60 429.95v3.8" stroke="#000" stroke-width="0.86" fill="none"/>
<path d="M262.20 429.95v1.9M275.72 429.95v1.9M285.31 429.95v1.9M292.75 429.95v1.9M298.82 429.95v1.9M303.96 429.95v1.9M308.41 429.95v1.9M312.34 429.95v1.9M338.95 429.95v1.9M352.47 429.95v1.9M362.06 429.95v1.9M369.50 429.95v1.9M375.57 429.95v1.9M380.71 429.95v1.9M385.16 429.95v1.9M389.09 429.95v1.9" stroke="#000" stroke-opacity="0.8" stroke-width="0.6" fill="none"/>
<text x="316.15" y="320.85" font-size="14.26" text-anchor="middle"><tspan font-style="italic">κt</tspan><tspan dx="1.4" dy="-5.42" font-size="9.98" font-style="italic">true</tspan><tspan dx="3.6" dy="5.42">=</tspan><tspan dx="3.6">2.0 m</tspan><tspan dy="-5.42" font-size="9.98">2</tspan></text>
<!-- panel g -->
<svg x="239.1" y="470.85" width="153.5" height="103.5" viewBox="0 0 153.5 103.5" overflow="hidden">
<rect width="153.5" height="103.5" fill="#6826fe"/>
<path fill="#3473f8" fill-rule="evenodd" d="M106.07 103.5L112.97 103.5L112.05 102.57L111.29 102.09L110.52 101.81L109.37 101.69L108.22 101.9L107.45 102.25L106.68 102.83L106.07 103.5ZM119.34 98.05L119.73 99.11L120.11 99.88L120.5 100.47L121.27 101.27L122.03 101.74L122.8 102L123.57 102.05L124.34 101.86L124.72 101.69L125.49 101.18L126.25 100.32L126.64 99.69L127.33 98.05L129.71 96.59L130.86 95.52L131.63 94.47L132.01 93.79L132.55 92.61L133.54 91.13L134.31 89.43L135.02 87.16L135.46 86.03L136.23 83.34L136.58 81.71L137 79.44L137.46 76.26L138.08 70.82L138.53 65.34L139.15 54.47L139.54 43.58L139.79 32.68L139.96 21.79L140.15 0L131.38 0L130.86 23.04L130.47 35.38L130.09 45.26L129.71 53.02L129.28 59.92L128.86 65.37L128.32 70.82L127.62 76.26L126.67 81.71L125.87 85.07L125.46 87.16L124.34 89.58L123.33 92.61L121.65 93.91L120.88 94.73L120.11 95.98L119.73 96.88L119.34 98.05Z"/>
<path fill="#00b5eb" fill-rule="evenodd" d="M120.77 98.05L121.27 99L121.65 99.55L122.03 99.97L122.8 100.49L123.18 100.62L123.57 100.6L123.95 100.45L124.34 100.22L125.1 99.44L125.49 98.86L125.87 98.11L126.25 97.02L126.64 96.66L127.02 96.52L127.79 96.43L128.17 96.26L129.32 95.2L130.09 94.18L130.93 92.61L132.01 91.01L132.78 89.42L133.55 87.16L134.31 85.18L134.7 83.89L135.46 80.51L136.16 76.26L136.74 70.82L137.02 65.37L137.48 59.92L137.83 54.47L138.41 43.58L138.84 21.79L139.07 0L132.46 0L132.01 21.64L131.69 32.68L130.95 54.47L130.37 65.37L128.93 76.26L128.03 81.71L126.93 87.16L125.49 90.88L124.72 93.43L124.34 93.99L123.18 94.65L122.42 95.3L122.03 95.74L121.27 96.94L120.77 98.05Z"/>
<path fill="#32e3da" fill-rule="evenodd" d="M121.94 98.05L122.42 98.66L122.8 98.99L123.18 99.17L123.57 99.15L123.95 98.93L124.34 98.57L124.73 98.05L124.34 97.08L123.95 96.67L123.57 96.5L123.18 96.56L122.8 96.86L122.42 97.3L121.94 98.05ZM126.03 92.61L126.25 93.44L126.64 94.22L127.02 94.66L127.41 94.94L127.79 95.11L128.17 94.97L128.94 94.11L129.32 93.55L130.09 92.19L131.24 90.44L132.01 88.82L133.16 85.79L133.93 83.39L134.7 80.02L135.33 76.26L135.88 70.82L136.03 65.37L136.51 59.92L137.55 43.58L137.97 21.79L138.23 0L133.3 0L132.73 27.24L132.15 43.58L131.9 54.47L131.36 65.37L130.86 68.3L129.76 76.26L128.91 81.71L127.89 87.16L126.03 92.61Z"/>
<path fill="#66fcc2" fill-rule="evenodd" d="M126.93 92.61L127.41 93.42L127.79 93.8L128.17 93.68L128.95 92.61L129.32 90.97L129.71 90.69L130.09 90.56L130.47 90.16L131.24 88.7L132.39 85.83L133.16 83.62L133.93 80.51L134.69 76.26L135.22 70.82L135.24 65.37L135.69 59.92L136.7 43.58L137.1 21.79L137.4 0L134.15 0L133.61 27.24L133 43.58L132.77 54.47L132.15 65.37L131.63 67.96L129.58 81.71L128.65 87.16L128.56 88.39L128.17 89.54L127.79 90.17L126.93 92.61Z"/>
<path fill="#99fca6" fill-rule="evenodd" d="M129.32 87.16L129.71 88.45L130.09 88.92L130.47 88.64L130.86 87.89L132.01 85.11L132.78 82.87L133.1 81.71L133.54 79.63L134.16 76.26L134.65 70.82L134.53 65.37L134.87 59.92L135 54.47L135.52 43.58L135.54 32.68L135.46 28.6L135.08 28.66L134.7 34.13L134.31 40.91L133.78 54.47L133.54 56.64L132.86 65.37L132.39 67.27L131.63 71.58L129.71 84.86L129.32 87.16Z"/>
<path fill="#cce385" fill-rule="evenodd" d="M130.03 87.16L130.09 87.28L130.4 87.16L130.09 86.82L130.03 87.16ZM130.68 81.71L130.86 83.86L131.24 84.37L131.63 84.36L132.01 83.46L132.39 82.32L133.16 78.98L133.68 76.26L134.14 70.82L133.93 67.19L133.54 65.88L133.16 66.85L132.78 68.28L132.01 72.36L131.41 76.26L130.68 81.71Z"/>
<path fill="#ffb360" fill-rule="evenodd" d="M131.21 81.71L131.63 82.7L132.04 81.71L132.39 79.57L132.78 78.37L133.22 76.26L133.61 70.82L133.54 70.26L133.16 69.38L132.79 70.82L131.88 76.26L131.63 78.84L131.21 81.71Z"/>
<path fill="#ff733b" fill-rule="evenodd" d="M132.39 76.26L132.44 76.26L132.39 76.26Z"/>
</svg>
<path d="M360.25 552.56H378.75M369.50 543.31V561.81" stroke="#000" stroke-width="1.05" fill="none"/>
<rect x="361.05" y="472.35" width="29.02" height="20.9" fill="#fff"/>
<text x="364.80" y="486.45" font-size="12.96" font-weight="bold">(g)</text>
<rect x="239.1" y="470.85" width="153.5" height="103.5" fill="none" stroke="#000" stroke-width="0.86"/>
<text x="232.70" y="557.16" font-size="11.88" text-anchor="end">5</text>
<text x="232.70" y="529.92" font-size="11.88" text-anchor="end">10</text>
<text x="232.70" y="502.69" font-size="11.88" text-anchor="end">15</text>
<text x="232.70" y="475.45" font-size="11.88" text-anchor="end">20</text>
<text x="239.40" y="589.35" font-size="11.88" text-anchor="middle">10<tspan dy="-4.4" dx="0.3" font-size="8.6">−1</tspan></text>
<text x="316.15" y="589.35" font-size="11.88" text-anchor="middle">10<tspan dy="-4.4" dx="0.3" font-size="8.6">0</tspan></text>
<text x="392.90" y="589.35" font-size="11.88" text-anchor="middle">10<tspan dy="-4.4" dx="0.3" font-size="8.6">1</tspan></text>
<path d="M239.10 552.56h-3.8M239.10 525.32h-3.8M239.10 498.09h-3.8M239.10 470.85h-3.8M239.10 574.35v3.8M315.85 574.35v3.8M392.60 574.35v3.8" stroke="#000" stroke-width="0.86" fill="none"/>
<path d="M262.20 574.35v1.9M275.72 574.35v1.9M285.31 574.35v1.9M292.75 574.35v1.9M298.82 574.35v1.9M303.96 574.35v1.9M308.41 574.35v1.9M312.34 574.35v1.9M338.95 574.35v1.9M352.47 574.35v1.9M362.06 574.35v1.9M369.50 574.35v1.9M375.57 574.35v1.9M380.71 574.35v1.9M385.16 574.35v1.9M389.09 574.35v1.9" stroke="#000" stroke-opacity="0.8" stroke-width="0.6" fill="none"/>
<text x="316.15" y="606.45" font-size="12.0" text-anchor="middle"><tspan font-style="italic">κt</tspan> (m<tspan dy="-4.5" dx="0.5" font-size="8.6">2</tspan><tspan dy="4.5" dx="0.5">)</tspan></text>
<text x="316.15" y="465.25" font-size="14.26" text-anchor="middle"><tspan font-style="italic">κt</tspan><tspan dx="1.4" dy="-5.42" font-size="9.98" font-style="italic">true</tspan><tspan dx="3.6" dy="5.42">=</tspan><tspan dx="3.6">5.0 m</tspan><tspan dy="-5.42" font-size="9.98">2</tspan></text>
<!-- panel h -->
<svg x="439.1" y="182.05" width="153.5" height="103.5" viewBox="0 0 153.5 103.5" overflow="hidden">
<rect width="153.5" height="103.5" fill="#6826fe"/>
<path fill="#3473f8" fill-rule="evenodd" d="M73.97 89.88L74.16 90.03L74.35 90.06L74.64 89.97L74.93 89.78L75.5 89.16L76.17 88.08L76.65 87.08L77.33 85.31L77.86 83.62L78.36 81.71L78.91 77.9L79.62 70.82L79.69 68.64L79.68 66.73L79.58 65.37L79.43 64.82L79.24 64.48L79.05 64.31L78.86 64.28L78.57 64.44L78.3 64.82L78.09 65.28L77.81 66.44L77.08 70.54L76.26 76.26L75.14 81.71L73.97 87.97L73.84 89.34L73.97 89.88Z"/>
<path fill="#00b5eb" fill-rule="evenodd" d="M74.7 88.52L74.93 88.6L75.31 88.36L75.69 87.88L76.17 87.07L77.13 84.71L78.02 81.71L78.5 78.17L79.13 71.09L79.13 68.91L78.96 67.4L78.86 67.12L78.76 67L78.67 66.97L78.38 67.33L78.09 68.16L77.71 69.8L76.68 76.26L75.48 81.71L74.73 86.34L74.57 87.7L74.6 88.25L74.7 88.52Z"/>
<path fill="#32e3da" fill-rule="evenodd" d="M75.18 86.89L75.31 87.14L75.41 87.15L75.6 87.02L75.89 86.66L76.27 85.97L77.04 84.1L77.77 81.71L78.15 78.71L78.48 74.36L78.62 71.63L78.63 70.82L78.57 70.48L78.48 70.23L78.38 70.18L78.19 70.4L78.03 70.82L77.03 76.26L75.73 81.71L75.22 85.52L75.18 86.89Z"/>
<path fill="#66fcc2" fill-rule="evenodd" d="M75.72 85.25L75.79 85.41L75.89 85.45L75.98 85.4L76.46 84.69L77.04 83.29L77.54 81.71L77.87 78.44L77.9 77.35L77.81 76.45L77.71 76.27L77.61 76.28L77.42 76.56L77.23 77.04L75.96 81.71L75.71 84.16L75.72 85.25Z"/>
<path fill="#99fca6" fill-rule="evenodd" d="M76.19 83.62L76.27 83.74L76.37 83.73L76.65 83.35L77.3 81.71L77.44 80.08L77.42 78.99L77.33 78.75L77.23 78.77L77.04 79.09L76.2 81.71L76.13 83.07L76.19 83.62Z"/>
<path fill="#cce385" fill-rule="evenodd" d="M76.61 81.98L76.65 82.04L76.75 82.02L76.94 81.76L76.94 81.39L76.85 81.22L76.65 81.45L76.54 81.71L76.61 81.98Z"/>
</svg>
<path d="M506.60 263.76H525.10M515.85 254.51V273.01" stroke="#000" stroke-width="1.05" fill="none"/>
<rect x="561.05" y="183.55" width="28.97" height="20.9" fill="#fff"/>
<text x="564.80" y="197.65" font-size="12.96" font-weight="bold">(h)</text>
<rect x="439.1" y="182.05" width="153.5" height="103.5" fill="none" stroke="#000" stroke-width="0.86"/>
<text x="432.70" y="268.36" font-size="11.88" text-anchor="end">5</text>
<text x="432.70" y="241.12" font-size="11.88" text-anchor="end">10</text>
<text x="432.70" y="213.89" font-size="11.88" text-anchor="end">15</text>
<text x="432.70" y="186.65" font-size="11.88" text-anchor="end">20</text>
<text x="439.40" y="300.55" font-size="11.88" text-anchor="middle">10<tspan dy="-4.4" dx="0.3" font-size="8.6">−1</tspan></text>
<text x="516.15" y="300.55" font-size="11.88" text-anchor="middle">10<tspan dy="-4.4" dx="0.3" font-size="8.6">0</tspan></text>
<text x="592.90" y="300.55" font-size="11.88" text-anchor="middle">10<tspan dy="-4.4" dx="0.3" font-size="8.6">1</tspan></text>
<path d="M439.10 263.76h-3.8M439.10 236.52h-3.8M439.10 209.29h-3.8M439.10 182.05h-3.8M439.10 285.55v3.8M515.85 285.55v3.8M592.60 285.55v3.8" stroke="#000" stroke-width="0.86" fill="none"/>
<path d="M462.20 285.55v1.9M475.72 285.55v1.9M485.31 285.55v1.9M492.75 285.55v1.9M498.82 285.55v1.9M503.96 285.55v1.9M508.41 285.55v1.9M512.34 285.55v1.9M538.95 285.55v1.9M552.47 285.55v1.9M562.06 285.55v1.9M569.50 285.55v1.9M575.57 285.55v1.9M580.71 285.55v1.9M585.16 285.55v1.9M589.09 285.55v1.9" stroke="#000" stroke-opacity="0.8" stroke-width="0.6" fill="none"/>
<text x="516.15" y="176.45" font-size="14.26" text-anchor="middle"><tspan font-style="italic">σ</tspan><tspan dx="0.8" dy="-5.42" font-size="9.98" font-style="italic">true</tspan><tspan dx="3.6" dy="5.42">=</tspan><tspan dx="3.6">10</tspan><tspan dy="-5.42" font-size="9.98">−4</tspan><tspan dy="5.42">×</tspan><tspan font-style="italic">u</tspan><tspan dy="2.1" font-size="9.98" font-style="italic">end</tspan></text>
<!-- panel i -->
<svg x="439.1" y="326.45" width="153.5" height="103.5" viewBox="0 0 153.5 103.5" overflow="hidden">
<rect width="153.5" height="103.5" fill="#6826fe"/>
<path fill="#3473f8" fill-rule="evenodd" d="M0 103.5L121.77 103.5L122.8 102.99L123.52 102.41L124.34 102.01L125.17 101.32L125.87 100.94L126.25 100.64L126.64 100.23L127.41 99.74L128.56 98.67L129.71 97.34L130.47 96.31L131.63 94.5L132.01 93.71L132.39 93.17L133.89 90.43L134.31 89.79L135.12 88.25L135.46 87.73L136.62 85.31L137.17 83.89L137.49 82.8L137.91 80.62L138.4 77.35L139.14 70.82L139.51 66.46L139.69 63.2L139.87 61.01L140.25 53.38L141.06 33.77L141.43 21.79L141.68 6.54L141.72 0L0 0L0 103.5Z"/>
<path fill="#00b5eb" fill-rule="evenodd" d="M0 103.5L108.87 103.5L109.75 103.06L110.64 102.41L111.67 101.82L112.29 101.32L113.21 100.74L113.78 100.23L114.36 99.83L115.51 98.79L116.66 97.52L118.2 95.37L119.35 93.4L119.73 92.61L120.11 92.05L122.03 88.68L123.18 86.48L123.85 84.98L124.6 82.8L124.83 81.71L125.34 78.44L126.01 72.99L126.52 67.55L126.9 62.1L127.59 47.94L128.03 37.04L128.44 25.06L128.75 10.89L128.83 0L0 0L0 103.5Z"/>
<path fill="#32e3da" fill-rule="evenodd" d="M0 103.5L100.7 103.5L104.12 101.32L105.6 100.23L106.91 99.14L107.99 98.05L108.88 96.96L109.66 95.87L110.99 93.69L114.66 87.16L115.68 84.98L116.43 82.8L116.66 81.71L117.17 78.44L117.84 72.99L118.43 66.46L118.85 59.92L119.26 51.21L119.9 35.95L120.32 22.88L120.57 10.89L120.65 0L0 0L0 103.5Z"/>
<path fill="#66fcc2" fill-rule="evenodd" d="M3.25 103.5L92.74 103.5L93.63 103L95.17 102.02L96.7 100.96L98.24 99.78L99.39 98.74L100.54 97.47L101.31 96.46L102.08 95.31L105.92 88.63L107.07 86.43L107.72 84.98L108.47 82.8L108.69 81.71L109.21 78.44L109.88 72.99L110.39 67.55L110.76 62.1L111.45 47.94L111.9 37.04L112.33 23.97L112.61 10.89L112.69 0L23.21 0L23.03 18.76L22.64 31.89L22.26 42L21.49 59.08L21.11 65.37L20.72 70.06L20.34 73.89L19.96 76.97L19.24 81.71L18.65 83.89L18.24 84.98L17.26 87.16L16.88 87.73L16.04 89.34L15.73 89.78L14.58 91.8L14.2 92.61L13.81 93.15L12.91 94.78L12.66 95.11L12.26 95.87L11.9 96.25L11.47 96.96L11.13 97.27L10.54 98.05L9.98 98.53L9.47 99.14L8.83 99.57L8.16 100.23L7.29 100.76L6.67 101.32L5.76 101.82L5.04 102.41L4.22 102.8L3.25 103.5Z"/>
<path fill="#99fca6" fill-rule="evenodd" d="M21.98 103.5L86.52 103.5L89.03 101.97L90.95 100.62L92.1 99.71L93.25 98.66L94.4 97.36L95.17 96.34L95.94 95.18L97.09 93.22L100.16 87.79L101.5 84.98L102.25 82.8L102.46 81.71L102.99 78.44L103.42 75.17L104.17 67.55L104.55 62.1L105.37 44.67L105.76 34.86L106.17 21.79L106.4 9.81L106.47 0L41.94 0L41.83 15.25L41.45 29.42L41.06 40.19L40.29 57.68L39.91 64.28L39.53 69.21L38.78 76.26L37.99 81.71L37.38 83.89L36.5 86.07L35.95 87.16L34.16 90.43L33.77 90.99L32.62 93.02L32.29 93.69L30.95 95.87L30.17 96.96L29.55 97.65L29.27 98.05L28.78 98.46L28.19 99.14L27.63 99.51L26.91 100.23L26.1 100.71L25.41 101.32L24.56 101.77L23.8 102.41L23.03 102.76L21.98 103.5Z"/>
<path fill="#cce385" fill-rule="evenodd" d="M33.18 103.5L81.6 103.5L84.43 101.74L85.96 100.66L87.5 99.42L88.26 98.71L89.41 97.44L90.18 96.43L90.95 95.28L95.17 87.9L96.1 86.07L96.99 83.89L97.33 82.8L97.74 80.62L98.36 76.26L98.74 72.99L99.25 67.55L99.63 62.1L99.97 55.56L100.72 38.13L101.13 26.15L101.37 16.34L101.5 8.72L101.55 0L53.13 0L52.96 18.74L52.57 31.88L52.38 35.95L52.19 41.98L51.42 59.07L51.04 65.37L50.66 70.05L50.27 73.88L49.89 76.95L49.17 81.71L48.58 83.89L48.16 84.98L47.19 87.16L46.82 87.71L45.97 89.34L45.67 89.76L45.34 90.43L44.51 91.79L44.13 92.61L43.75 93.13L42.19 95.87L41.83 96.24L41.4 96.96L41.06 97.26L40.47 98.05L39.91 98.51L39.39 99.14L38.76 99.55L38.09 100.23L37.22 100.74L36.6 101.32L35.69 101.8L34.97 102.41L34.15 102.78L33.18 103.5Z"/>
<path fill="#ffb360" fill-rule="evenodd" d="M39.45 103.5L77.37 103.5L79.82 101.97L81.74 100.64L83.58 99.14L84.66 98.05L85.55 96.96L86.73 95.26L90.56 88.58L91.72 86.38L92.35 84.98L93.1 82.8L93.33 81.71L94.27 75.17L95.02 67.55L95.4 62.1L95.74 55.56L96.44 39.22L96.8 29.42L97.19 14.16L97.32 0L59.4 0L59.31 11.98L59.01 25.06L58.52 39.22L57.77 56.65L57.34 64.28L56.81 70.82L56.21 76.26L55.41 81.71L55.18 82.8L54.85 83.89L54.43 84.98L53.41 87.16L49.1 94.78L47.64 96.96L46.74 98.05L45.66 99.14L44.35 100.23L42.87 101.32L39.45 103.5Z"/>
<path fill="#ff733b" fill-rule="evenodd" d="M45.58 103.5L73.37 103.5L76.79 101.32L78.28 100.23L79.58 99.14L80.66 98.05L81.55 96.96L83.02 94.78L86.75 88.25L87.87 86.07L88.77 83.89L89.1 82.8L89.33 81.71L89.68 79.53L90.18 75.88L90.63 71.91L90.95 68.44L91.33 63.19L92.1 47.57L92.87 27.34L93.23 11.98L93.32 0L65.53 0L65.46 9.81L65.24 21.95L64.85 34.14L64.09 52.73L63.68 61.01L63.32 66.46L62.95 70.82L62.2 77.35L61.53 81.71L61.3 82.8L60.98 83.89L60.56 84.98L59.54 87.16L55.24 94.78L53.77 96.96L52.87 98.05L51.79 99.14L50.48 100.23L48.99 101.32L45.58 103.5Z"/>
<path fill="#ff2613" fill-rule="evenodd" d="M50.61 103.5L69.11 103.5L69.84 102.86L70.87 102.41L71.38 101.91L71.76 101.65L72.55 101.32L72.91 100.89L73.3 100.58L74.05 100.23L74.45 99.7L74.83 99.4L75.3 99.14L75.98 98.33L76.41 98.05L76.75 97.47L77.27 96.96L77.52 96.53L78.04 95.87L78.28 95.42L78.75 94.78L79.05 94.15L79.44 93.7L79.82 92.84L80.63 91.52L80.97 90.78L81.25 90.43L82.12 88.77L82.52 88.25L83.27 86.63L83.65 86.07L84.09 84.98L84.85 82.8L85.58 78.61L86.34 72.33L86.55 69.73L86.73 68.3L86.89 65.37L87.11 63.19L87.29 58.83L87.5 55.92L87.7 50.12L87.88 47.38L88.02 42.49L88.27 38.13L88.43 31.59L88.65 27.29L89.03 10.46L89.07 0L70.56 0L70.46 14.16L70.1 28.33L69.67 40.31L69.46 44.15L69.3 49.03L69.08 52.95L68.9 57.74L68.53 64.28L68.1 69.73L67.4 76.26L66.6 81.71L66.34 82.8L65.99 83.89L64.85 86.69L63.7 88.87L63.37 89.34L62.55 90.87L62.12 91.52L61.78 92.23L61.52 92.61L60.63 94.26L60.25 94.77L59.87 95.53L59.1 96.65L58.71 97.07L58.33 97.66L57.95 98L57.56 98.51L57.18 98.89L56.8 99.14L56.41 99.61L56.03 99.93L55.54 100.23L54.88 100.84L54.04 101.32L53.34 101.92L52.41 102.41L51.42 103.14L50.61 103.5Z"/>
</svg>
<path d="M506.60 408.16H525.10M515.85 398.91V417.41" stroke="#000" stroke-width="1.05" fill="none"/>
<rect x="561.05" y="327.95" width="24.19" height="20.9" fill="#fff"/>
<text x="564.80" y="342.05" font-size="12.96" font-weight="bold">(i)</text>
<rect x="439.1" y="326.45" width="153.5" height="103.5" fill="none" stroke="#000" stroke-width="0.86"/>
<text x="432.70" y="412.76" font-size="11.88" text-anchor="end">5</text>
<text x="432.70" y="385.52" font-size="11.88" text-anchor="end">10</text>
<text x="432.70" y="358.29" font-size="11.88" text-anchor="end">15</text>
<text x="432.70" y="331.05" font-size="11.88" text-anchor="end">20</text>
<text x="439.40" y="444.95" font-size="11.88" text-anchor="middle">10<tspan dy="-4.4" dx="0.3" font-size="8.6">−1</tspan></text>
<text x="516.15" y="444.95" font-size="11.88" text-anchor="middle">10<tspan dy="-4.4" dx="0.3" font-size="8.6">0</tspan></text>
<text x="592.90" y="444.95" font-size="11.88" text-anchor="middle">10<tspan dy="-4.4" dx="0.3" font-size="8.6">1</tspan></text>
<path d="M439.10 408.16h-3.8M439.10 380.92h-3.8M439.10 353.69h-3.8M439.10 326.45h-3.8M439.10 429.95v3.8M515.85 429.95v3.8M592.60 429.95v3.8" stroke="#000" stroke-width="0.86" fill="none"/>
<path d="M462.20 429.95v1.9M475.72 429.95v1.9M485.31 429.95v1.9M492.75 429.95v1.9M498.82 429.95v1.9M503.96 429.95v1.9M508.41 429.95v1.9M512.34 429.95v1.9M538.95 429.95v1.9M552.47 429.95v1.9M562.06 429.95v1.9M569.50 429.95v1.9M575.57 429.95v1.9M580.71 429.95v1.9M585.16 429.95v1.9M589.09 429.95v1.9" stroke="#000" stroke-opacity="0.8" stroke-width="0.6" fill="none"/>
<text x="516.15" y="320.85" font-size="14.26" text-anchor="middle"><tspan font-style="italic">σ</tspan><tspan dx="0.8" dy="-5.42" font-size="9.98" font-style="italic">true</tspan><tspan dx="3.6" dy="5.42">=</tspan><tspan dx="3.6">10</tspan><tspan dy="-5.42" font-size="9.98">−2</tspan><tspan dy="5.42">×</tspan><tspan font-style="italic">u</tspan><tspan dy="2.1" font-size="9.98" font-style="italic">end</tspan></text>
<!-- panel j -->
<svg x="439.1" y="470.85" width="153.5" height="103.5" viewBox="0 0 153.5 103.5" overflow="hidden">
<rect width="153.5" height="103.5" fill="#6826fe"/>
<path fill="#3473f8" fill-rule="evenodd" d="M0 103.5L153.5 103.5L153.5 0L0 0L0 103.5Z"/>
<path fill="#00b5eb" fill-rule="evenodd" d="M0 103.5L153.5 103.5L153.5 0L0 0L0 103.5Z"/>
<path fill="#32e3da" fill-rule="evenodd" d="M0 103.5L153.5 103.5L153.5 0L0 0L0 103.5Z"/>
<path fill="#66fcc2" fill-rule="evenodd" d="M0 103.5L153.5 103.5L153.5 0L0 0L0 103.5Z"/>
<path fill="#99fca6" fill-rule="evenodd" d="M0 103.5L153.5 103.5L153.5 0L0 0L0 103.5Z"/>
<path fill="#cce385" fill-rule="evenodd" d="M0 103.5L153.5 103.5L153.5 0L0 0L0 103.5Z"/>
<path fill="#ffb360" fill-rule="evenodd" d="M0 103.5L153.5 103.5L153.5 0L0 0L0 103.5Z"/>
<path fill="#ff733b" fill-rule="evenodd" d="M0 103.5L131.24 103.5L137.2 101.32L139.79 100.23L142.04 99.14L143.91 98.05L145.5 96.96L146.94 95.87L148.2 94.78L149.24 93.69L150.05 92.61L150.67 91.52L151.19 90.43L152.02 88.25L152.89 84.98L153.5 81.71L153.5 0L0 0L0 103.5Z"/>
<path fill="#ff2613" fill-rule="evenodd" d="M0 103.5L108.22 103.5L108.6 103.23L109.37 102.87L110.14 102.64L111.29 102.41L111.67 102.14L112.44 101.75L114.1 101.32L115.12 100.69L115.89 100.43L116.71 100.23L117.43 99.69L117.81 99.5L118.99 99.14L119.35 98.78L119.73 98.5L120.11 98.3L120.88 98.05L121.27 97.59L121.65 97.31L122.44 96.96L122.8 96.52L123.18 96.21L123.87 95.87L124.34 95.28L124.72 95L125.14 94.78L125.49 94.24L125.87 93.89L126.18 93.69L126.64 92.91L127.02 92.61L127.79 90.99L128.16 90.43L129.32 87.16L130.09 83.89L130.22 82.8L130.47 81.71L130.57 80.62L131.24 76.48L131.38 75.17L131.63 73.86L131.83 71.91L132.01 70.96L132.11 69.73L132.39 67.79L132.62 65.37L132.78 64.38L132.93 62.1L133.16 60.14L133.35 56.65L133.54 54.47L133.67 50.12L133.93 45.99L134.1 40.31L134.31 36.68L134.46 30.51L134.7 25.06L135.04 5.45L135.08 0L0 0L0 103.5Z"/>
</svg>
<path d="M506.60 552.56H525.10M515.85 543.31V561.81" stroke="#000" stroke-width="1.05" fill="none"/>
<rect x="561.05" y="472.35" width="24.19" height="20.9" fill="#fff"/>
<text x="564.80" y="486.45" font-size="12.96" font-weight="bold">(j)</text>
<rect x="439.1" y="470.85" width="153.5" height="103.5" fill="none" stroke="#000" stroke-width="0.86"/>
<text x="432.70" y="557.16" font-size="11.88" text-anchor="end">5</text>
<text x="432.70" y="529.92" font-size="11.88" text-anchor="end">10</text>
<text x="432.70" y="502.69" font-size="11.88" text-anchor="end">15</text>
<text x="432.70" y="475.45" font-size="11.88" text-anchor="end">20</text>
<text x="439.40" y="589.35" font-size="11.88" text-anchor="middle">10<tspan dy="-4.4" dx="0.3" font-size="8.6">−1</tspan></text>
<text x="516.15" y="589.35" font-size="11.88" text-anchor="middle">10<tspan dy="-4.4" dx="0.3" font-size="8.6">0</tspan></text>
<text x="592.90" y="589.35" font-size="11.88" text-anchor="middle">10<tspan dy="-4.4" dx="0.3" font-size="8.6">1</tspan></text>
<path d="M439.10 552.56h-3.8M439.10 525.32h-3.8M439.10 498.09h-3.8M439.10 470.85h-3.8M439.10 574.35v3.8M515.85 574.35v3.8M592.60 574.35v3.8" stroke="#000" stroke-width="0.86" fill="none"/>
<path d="M462.20 574.35v1.9M475.72 574.35v1.9M485.31 574.35v1.9M492.75 574.35v1.9M498.82 574.35v1.9M503.96 574.35v1.9M508.41 574.35v1.9M512.34 574.35v1.9M538.95 574.35v1.9M552.47 574.35v1.9M562.06 574.35v1.9M569.50 574.35v1.9M575.57 574.35v1.9M580.71 574.35v1.9M585.16 574.35v1.9M589.09 574.35v1.9" stroke="#000" stroke-opacity="0.8" stroke-width="0.6" fill="none"/>
<text x="516.15" y="606.45" font-size="12.0" text-anchor="middle"><tspan font-style="italic">κt</tspan> (m<tspan dy="-4.5" dx="0.5" font-size="8.6">2</tspan><tspan dy="4.5" dx="0.5">)</tspan></text>
<text x="516.15" y="465.25" font-size="14.26" text-anchor="middle"><tspan font-style="italic">σ</tspan><tspan dx="0.8" dy="-5.42" font-size="9.98" font-style="italic">true</tspan><tspan dx="3.6" dy="5.42">=</tspan><tspan dx="3.6">10</tspan><tspan dy="-5.42" font-size="9.98">−1</tspan><tspan dy="5.42">×</tspan><tspan font-style="italic">u</tspan><tspan dy="2.1" font-size="9.98" font-style="italic">end</tspan></text>
<rect x="629.40" y="439.96" width="14.90" height="33.84" fill="#6826fe"/>
<rect x="629.40" y="406.42" width="14.90" height="33.84" fill="#3473f8"/>
<rect x="629.40" y="372.88" width="14.90" height="33.84" fill="#00b5eb"/>
<rect x="629.40" y="339.34" width="14.90" height="33.84" fill="#32e3da"/>
<rect x="629.40" y="305.80" width="14.90" height="33.84" fill="#66fcc2"/>
<rect x="629.40" y="272.26" width="14.90" height="33.84" fill="#99fca6"/>
<rect x="629.40" y="238.72" width="14.90" height="33.84" fill="#cce385"/>
<rect x="629.40" y="205.18" width="14.90" height="33.84" fill="#ffb360"/>
<rect x="629.40" y="171.64" width="14.90" height="33.84" fill="#ff733b"/>
<rect x="629.40" y="138.10" width="14.90" height="33.84" fill="#ff2613"/>
<rect x="629.40" y="138.10" width="14.90" height="335.40" fill="none" stroke="#000" stroke-width="0.86"/>
<text x="651.00" y="478.25" font-size="11.88">0.0</text>
<text x="651.00" y="444.71" font-size="11.88">0.1</text>
<text x="651.00" y="411.17" font-size="11.88">0.2</text>
<text x="651.00" y="377.63" font-size="11.88">0.3</text>
<text x="651.00" y="344.09" font-size="11.88">0.4</text>
<text x="651.00" y="310.55" font-size="11.88">0.5</text>
<text x="651.00" y="277.01" font-size="11.88">0.6</text>
<text x="651.00" y="243.47" font-size="11.88">0.7</text>
<text x="651.00" y="209.93" font-size="11.88">0.8</text>
<text x="651.00" y="176.39" font-size="11.88">0.9</text>
<text x="651.00" y="142.85" font-size="11.88">1.0</text>
<path d="M644.30 473.50h3.8M644.30 439.96h3.8M644.30 406.42h3.8M644.30 372.88h3.8M644.30 339.34h3.8M644.30 305.80h3.8M644.30 272.26h3.8M644.30 238.72h3.8M644.30 205.18h3.8M644.30 171.64h3.8M644.30 138.10h3.8" stroke="#000" stroke-width="0.86" fill="none"/>
<text transform="translate(683.20 305.80) rotate(-90)" font-size="12.0" text-anchor="middle">Normalized likelihood</text>
</svg>
</body></html>
